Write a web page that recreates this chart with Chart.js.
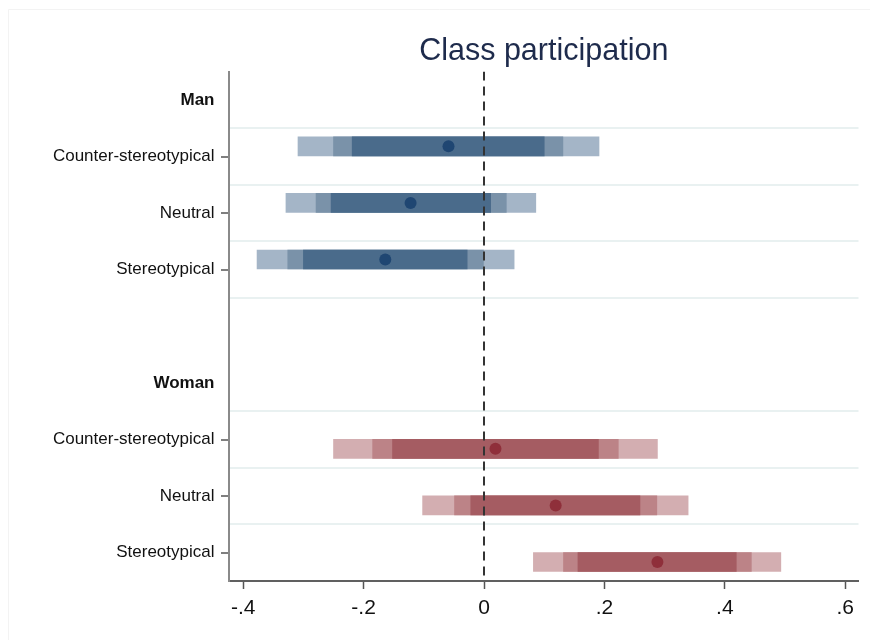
<!DOCTYPE html>
<html>
<head>
<meta charset="utf-8">
<script src="https://cdn.jsdelivr.net/npm/chart.js@4.4.1/dist/chart.umd.min.js"></script>
<style>
html,body{margin:0;padding:0;background:#fff}
#wrap{width:870px;height:640px}
</style>
</head>
<body>
<div id="wrap"><canvas id="c" width="870" height="640"></canvas></div>
<script>
// ---- data ----
const rowLabels = ['Man','Counter-stereotypical','Neutral','Stereotypical','','Woman','Counter-stereotypical','Neutral','Stereotypical'];
const headerRows = [0,5];
const manRows = [1,2,3];
const womanRows = [6,7,8];
const gridRows = [0.5,1.5,2.5,3.5,5.5,6.5,7.5];
const xTickValues = [-0.4,-0.2,0,0.2,0.4,0.6];
const xTickLabels = ['-.4','-.2','0','.2','.4','.6'];

const manEst   = [-0.059,-0.122,-0.164];
const manLo99  = [-0.309,-0.329,-0.377];
const manHi99  = [ 0.191, 0.086, 0.050];
const manLo95  = [-0.250,-0.279,-0.326];
const manHi95  = [ 0.131, 0.037,-0.001];
const manLo90  = [-0.219,-0.254,-0.300];
const manHi90  = [ 0.100, 0.011,-0.028];

const womanEst  = [ 0.019, 0.119, 0.288];
const womanLo99 = [-0.250,-0.102, 0.082];
const womanHi99 = [ 0.288, 0.339, 0.493];
const womanLo95 = [-0.185,-0.049, 0.132];
const womanHi95 = [ 0.223, 0.287, 0.444];
const womanLo90 = [-0.152,-0.022, 0.156];
const womanHi90 = [ 0.190, 0.259, 0.419];

// ---- presentation ----
const manOffset = -0.18, womanOffset = 0.165;
const FONT = "'Liberation Sans', Arial, sans-serif";
const T = 'rgba(0,0,0,0)';

function bars(rows, off, lo, hi, color, order){
  return {type:'bar', data: rows.map((r,i)=>({y:r+off, x:[lo[i],hi[i]]})),
    backgroundColor: color, borderWidth:0, barThickness:19, grouped:false, order:order};
}
function pts(rows, off, est, color){
  return {type:'line', data: rows.map((r,i)=>({y:r+off, x:est[i]})),
    showLine:false, pointRadius:6, pointHoverRadius:6, pointBorderWidth:0,
    pointBackgroundColor:color, borderColor:color, order:0};
}

const datasets = [
  pts(manRows, manOffset, manEst, '#1f4672'),
  pts(womanRows, womanOffset, womanEst, '#8f2f3a'),
  {type:'line', data:[{x:0,y:-0.5},{x:0,y:8.5}], borderColor:'#333', borderWidth:2,
   borderDash:[9,6], pointRadius:0, order:1},
  bars(manRows, manOffset, manLo90, manHi90, '#4a6b8b', 2),
  bars(manRows, manOffset, manLo95, manHi95, '#7a92a9', 3),
  bars(manRows, manOffset, manLo99, manHi99, '#a4b5c7', 4),
  bars(womanRows, womanOffset, womanLo90, womanHi90, '#a55c62', 2),
  bars(womanRows, womanOffset, womanLo95, womanHi95, '#bc8387', 3),
  bars(womanRows, womanOffset, womanLo99, womanHi99, '#d3aeb1', 4)
];

const framePlugin = {
  id:'frame',
  beforeDraw(chart){
    const c = chart.ctx;
    c.save();
    c.strokeStyle = '#f3f3f3';
    c.lineWidth = 1;
    c.beginPath();
    c.moveTo(8.5, 640); c.lineTo(8.5, 9.5); c.lineTo(870, 9.5);
    c.stroke();
    c.restore();
  }
};

new Chart(document.getElementById('c'), {
  type:'bar',
  data:{datasets},
  plugins:[framePlugin],
  options:{
    indexAxis:'y',
    responsive:false,
    animation:false,
    layout:{padding:{left:0,right:11.5,top:0,bottom:0}},
    plugins:{
      legend:{display:false},
      tooltip:{enabled:false},
      title:{display:true, text:'Class participation', fullSize:false,
        color:'#1e2b4c', font:{family:FONT, size:30.5, weight:'normal'},
        padding:{top:33,bottom:2}}
    },
    scales:{
      x:{type:'linear', min:-0.4236, max:0.622, offset:false,
        afterBuildTicks:(s)=>{ s.ticks = xTickValues.map(v=>({value:v})); },
        afterFit:(s)=>{ s.height = 59; },
        ticks:{callback:(v,i)=>xTickLabels[i], color:'#111', padding:7,
          font:{family:FONT,size:21}, autoSkip:false, maxRotation:0},
        grid:{drawOnChartArea:false, drawTicks:true, tickLength:8, tickColor:'#555', tickWidth:1.5},
        border:{display:true, color:'#606060', width:2}
      },
      y:{type:'linear', reverse:true, min:-0.5, max:8.5, offset:false,
        afterBuildTicks:(s)=>{
          const vals = rowLabels.map((l,i)=>i).concat(gridRows).sort((a,b)=>a-b);
          s.ticks = vals.map(v=>({value:v}));
        },
        afterFit:(s)=>{ s.width = 229; },
        ticks:{autoSkip:false, padding:6.5, color:'#111',
          callback:(v)=> Number.isInteger(v) ? rowLabels[v] : '',
          font:(ctx)=>({family:FONT, size:17,
            weight: (ctx.tick && headerRows.includes(ctx.tick.value)) ? 'bold':'normal'})},
        grid:{offset:false, drawOnChartArea:true, drawTicks:true, tickLength:8, lineWidth:2,
          color:(ctx)=> (ctx.tick && gridRows.includes(ctx.tick.value)) ? '#e9f1f1' : T,
          tickColor:(ctx)=>{
            const v = ctx.tick ? ctx.tick.value : -1;
            return (Number.isInteger(v) && rowLabels[v] !== '' && !headerRows.includes(v)) ? '#555' : T;
          },
          tickWidth:1.5},
        border:{display:true, color:'#8a8a8a', width:2}
      }
    }
  }
});
</script>
</body>
</html>
